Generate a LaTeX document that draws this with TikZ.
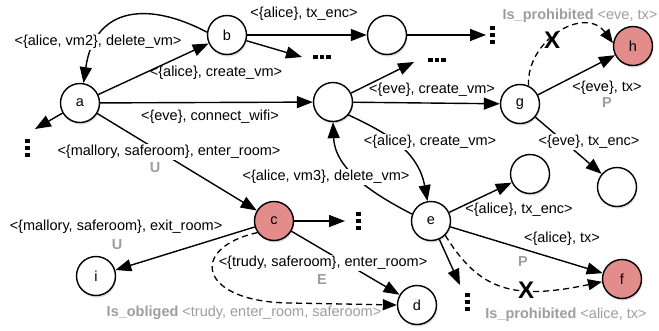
\documentclass[tikz,border=0pt]{standalone}
\usepackage{fontspec}
\setmainfont{Liberation Sans}
\usetikzlibrary{arrows.meta,shadows}
\definecolor{lgray}{RGB}{158,158,158}
\definecolor{nodered}{RGB}{226,140,140}
\newcommand\vdq{\vbox{\hrule width5pt height4.5pt\vskip2.5pt\hrule width5pt height4.5pt\vskip2.5pt\hrule width5pt height4.5pt}}
\newcommand\hdq{\hbox{\vrule width4.5pt height4.5pt\hskip2pt\vrule width4.5pt height4.5pt\hskip2pt\vrule width4.5pt height4.5pt}}
\begin{document}
\begin{tikzpicture}[x=1pt,y=-1pt,
  st/.style={circle,draw=black,line width=1.4pt,minimum size=39pt,inner sep=0pt,fill=white,
    font=\fontsize{14.5}{16}\selectfont,
    drop shadow={shadow xshift=0.8pt,shadow yshift=-2pt,opacity=0.3}},
  hot/.style={fill=nodered},
  arr/.style={line width=1.4pt,-{Triangle[length=16pt,width=12pt]}},
  darr/.style={line width=1.3pt,dash pattern=on 6pt off 4pt,-{Triangle[length=14pt,width=11pt]}},
  lbl/.style={font=\fontsize{14.5}{16}\selectfont,inner sep=1pt},
  lblw/.style={lbl,fill=white},
  gl/.style={inner sep=1pt,text=lgray,font=\fontsize{14.5}{16}\selectfont\bfseries},
  gtxt/.style={inner sep=1pt,text=lgray,font=\fontsize{14.5}{16}\selectfont},
  dotn/.style={inner sep=0pt},
  xmark/.style={font=\fontsize{24}{24}\selectfont\bfseries,inner sep=0pt}
]
\fill[white] (0,0) rectangle (659,330);
\useasboundingbox (0,0) rectangle (659,330);

% states
\node[st] (a) at (80,103) {a};
\node[st] (b) at (227,35) {b};
\node[st] (t1) at (387,35) {};
\node[st] (m) at (333,102) {};
\node[st] (g) at (520,104) {g};
\node[st,hot] (h) at (633,46) {h};
\node[st,hot] (c) at (274,221) {c};
\node[st] (e) at (431,221) {e};
\node[st] (n1) at (530,174) {};
\node[st] (n2) at (617,187) {};
\node[st,hot] (f) at (622,279) {f};
\node[st] (d) at (417,305) {d};
\node[st] (i) at (96,276) {i};

% continuation dots
\node[dotn] (dA) at (27,148) {\vdq};
\node[dotn] (dB) at (322,57) {\hdq};
\node[dotn] (dT) at (492,35) {\vdq};
\node[dotn] (dM) at (437,60) {\hdq};
\node[dotn] (dC) at (358,221) {\vdq};
\node[dotn] (dE) at (467,302) {\vdq};
\coordinate (tipA) at (35,129);
\coordinate (tipB) at (302,57);
\coordinate (tipT) at (486,35);
\coordinate (tipM) at (414,62);
\coordinate (tipC) at (345,221);
\coordinate (tipE) at (460,285);

% transitions
\draw[arr] (a) -- (b);
\draw[arr] (a) -- (m);
\draw[arr] (a) -- (c);
\draw[arr] (a) -- (tipA);
\draw[arr] (b) -- (t1);
\draw[arr] (b) -- (tipB);
\draw[arr] (t1) -- (tipT);
\draw[arr] (m) -- (tipM);
\draw[arr] (m) -- (g);
\draw[arr] (g) -- (h);
\draw[arr] (g) -- (n2);
\draw[arr] (c) -- (tipC);
\draw[arr] (c) -- (i);
\draw[arr] (c) -- (d);
\draw[arr] (e) -- (n1);
\draw[arr] (e) -- (f);
\draw[arr] (e) -- (tipE);
\draw[arr] (b.172) .. controls (150,2) and (95,5) .. (a.80);
\draw[arr] (m.-40) .. controls (385,132) and (418,150) .. (e.100);
\draw[arr] (e.160) .. controls (375,195) and (335,170) .. (m.-90);

% deontic dashed relations
\draw[darr] (g.65) .. controls (526,40) and (585,5) .. (h.172);
\draw[darr] (e.-45) .. controls (480,292) and (515,300) .. (f.188);
\draw[darr] (c.215) .. controls (188,248) and (198,302) .. (290,303) -- (d.180);
\node[xmark] (x1) at (552,40) {X};
\node[xmark] (x2) at (526,290) {X};

% labels
\node[lblw] (l1) at (98,42) {<\{alice, vm2\}, delete\_vm>};
\node[lbl] (l2) at (304,14) {<\{alice\}, tx\_enc>};
\node[lbl] (l3) at (216,73) {<\{alice\}, create\_vm>};
\node[lbl] (l4) at (210,117) {<\{eve\}, connect\_wifi>};
\node[lblw] (l5) at (169,152) {<\{mallory, saferoom\}, enter\_room>};
\node[gl] (u1) at (155,168) {U};
\node[lbl] (l6) at (432,90) {<\{eve\}, create\_vm>};
\node[lblw] (l7) at (430,142) {<\{alice\}, create\_vm>};
\node[lblw] (l8) at (326,177) {<\{alice, vm3\}, delete\_vm>};
\node[gtxt] (p1) at (580,16) {{\bfseries Is\_prohibited} <eve, tx>};
\node[lbl] (l9) at (607,88) {<\{eve\}, tx>};
\node[gl] (pp1) at (607,103) {P};
\node[lblw] (l10) at (589,142) {<\{eve\}, tx\_enc>};
\node[lbl] (l11) at (519,210) {<\{alice\}, tx\_enc>};
\node[lbl] (l12) at (562,239) {<\{alice\}, tx>};
\node[gl] (pp2) at (523,262) {P};
\node[gtxt] (p2) at (566,315) {{\bfseries Is\_prohibited} <alice, tx>};
\node[lbl] (l13) at (116,227) {<\{mallory, saferoom\}, exit\_room>};
\node[gl] (u2) at (117,245) {U};
\node[lblw] (l14) at (323,263) {<\{trudy, saferoom\}, enter\_room>};
\node[gl] (ee) at (322,280) {E};
\node[gtxt] (o1) at (244,313) {{\bfseries Is\_obliged} <trudy, enter\_room, saferoom>};
\end{tikzpicture}
\end{document}
